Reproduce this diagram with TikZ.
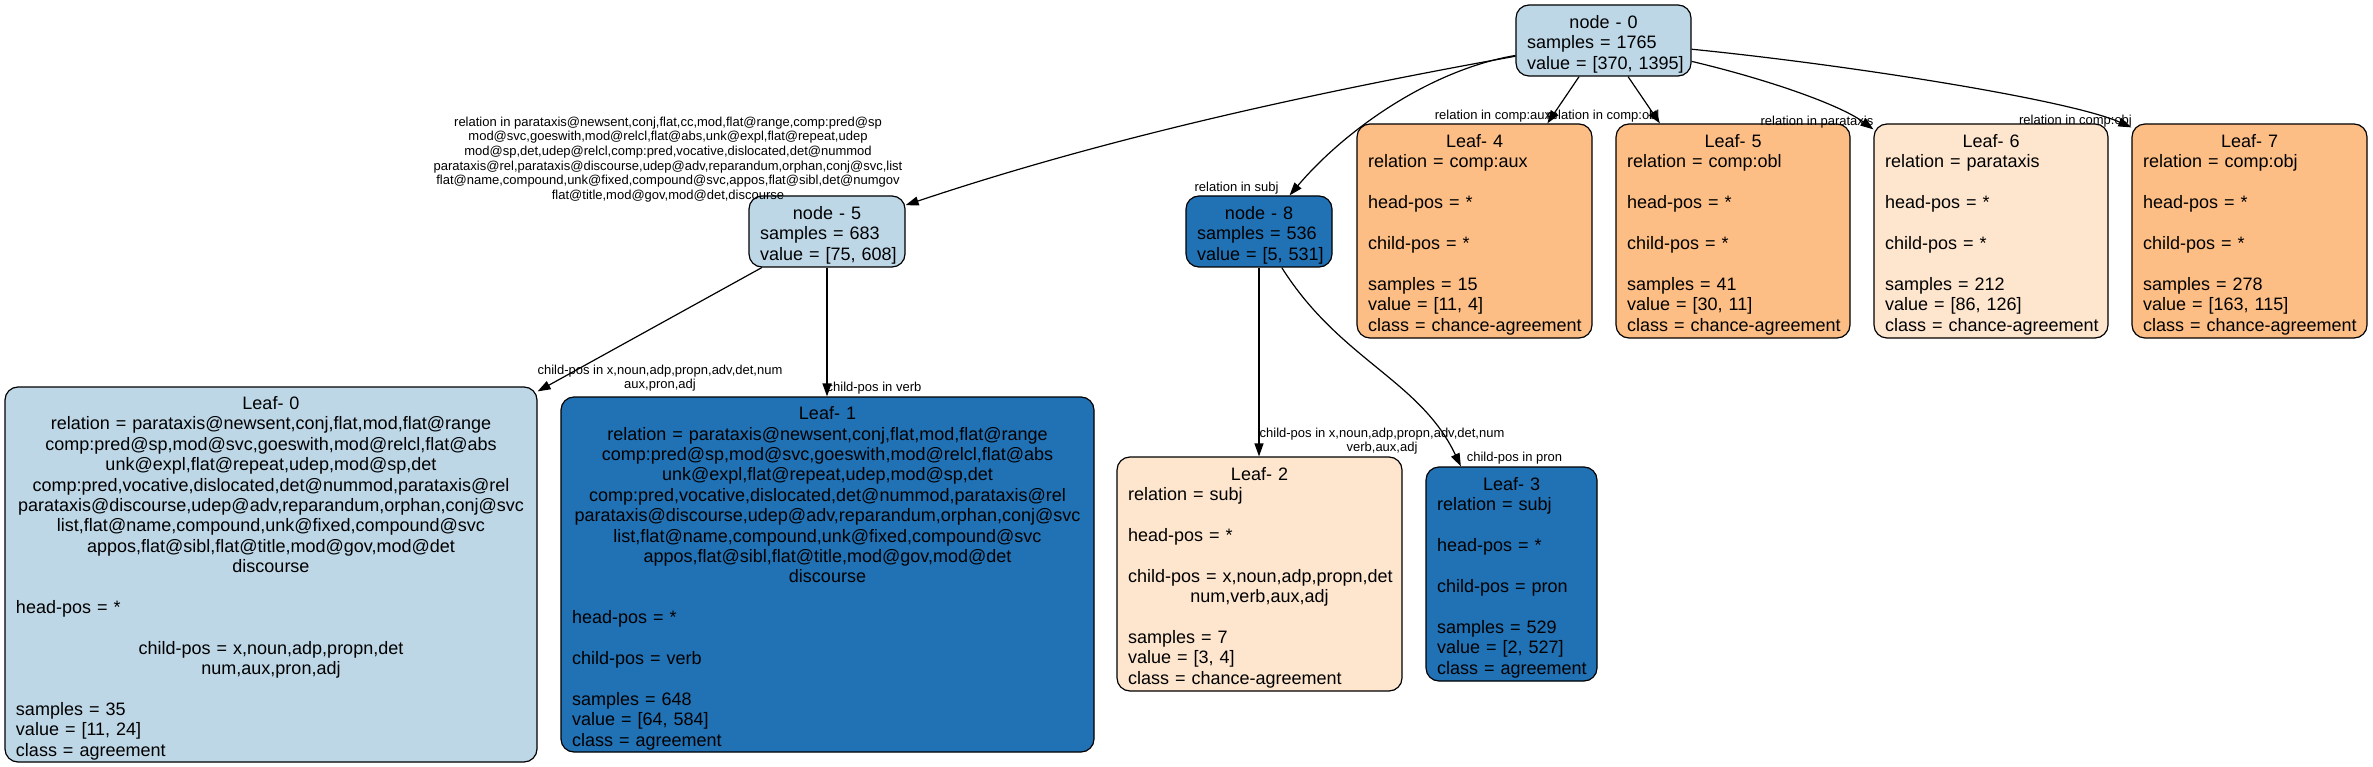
\documentclass[tikz,border=0pt]{standalone}
\usepackage{fontspec}
\setmainfont{Liberation Sans}
\usetikzlibrary{arrows.meta}
\definecolor{lblue}{HTML}{BDD7E7}
\definecolor{dblue}{HTML}{2171B5}
\definecolor{lorange}{HTML}{FDBE85}
\definecolor{cream}{HTML}{FEE6CE}
\newcommand\rowC[1]{\par\hbox to\hsize{\hfil#1\hfil}}
\newcommand\rowL[1]{\par\hbox to\hsize{#1\hfil}}
\newcommand\rowE{\par\hbox to\hsize{\hfil}}
\tikzset{
  box/.style={draw=black, line width=1.2pt, rounded corners=13pt, inner xsep=11pt, inner ysep=0pt, anchor=center, font=\fontsize{18}{20.4}\selectfont},
  elabel/.style={inner sep=0pt, align=center, font=\fontsize{13}{14.6}\selectfont},
  edge/.style={draw=black, line width=1.2pt, -{Triangle[length=13pt,width=9pt]}}
}
\begin{document}
\begin{tikzpicture}[x=1pt,y=-1pt]
\useasboundingbox[fill=white] (0,0) rectangle (2373,767);
% internal nodes
\node[box, fill=lblue, text width=153pt, minimum height=71pt] (N0) at (1603.5,40.5)
 {\rowC{node - 0}\rowL{samples = 1765}\rowL{value = [370, 1395]}};
\node[box, fill=lblue, text width=134pt, minimum height=71pt] (N5) at (827,231.5)
 {\rowC{node - 5}\rowL{samples = 683}\rowL{value = [75, 608]}};
\node[box, fill=dblue, text width=124pt, minimum height=71pt] (N8) at (1259,231.5)
 {\rowC{node - 8}\rowL{samples = 536}\rowL{value = [5, 531]}};
% leaves
\node[box, fill=lblue, text width=510pt, minimum height=375pt] (L0) at (271,574.5)
 {\rowC{Leaf- 0}
  \rowC{relation = parataxis@newsent,conj,flat,mod,flat@range}
  \rowC{comp:pred@sp,mod@svc,goeswith,mod@relcl,flat@abs}
  \rowC{unk@expl,flat@repeat,udep,mod@sp,det}
  \rowC{comp:pred,vocative,dislocated,det@nummod,parataxis@rel}
  \rowC{parataxis@discourse,udep@adv,reparandum,orphan,conj@svc}
  \rowC{list,flat@name,compound,unk@fixed,compound@svc}
  \rowC{appos,flat@sibl,flat@title,mod@gov,mod@det}
  \rowC{discourse}
  \rowE
  \rowL{head-pos = *}
  \rowE
  \rowC{child-pos = x,noun,adp,propn,det}
  \rowC{num,aux,pron,adj}
  \rowE
  \rowL{samples = 35}
  \rowL{value = [11, 24]}
  \rowL{class = agreement}};
\node[box, fill=dblue, text width=511pt, minimum height=355pt] (L1) at (827.5,574.5)
 {\rowC{Leaf- 1}
  \rowC{relation = parataxis@newsent,conj,flat,mod,flat@range}
  \rowC{comp:pred@sp,mod@svc,goeswith,mod@relcl,flat@abs}
  \rowC{unk@expl,flat@repeat,udep,mod@sp,det}
  \rowC{comp:pred,vocative,dislocated,det@nummod,parataxis@rel}
  \rowC{parataxis@discourse,udep@adv,reparandum,orphan,conj@svc}
  \rowC{list,flat@name,compound,unk@fixed,compound@svc}
  \rowC{appos,flat@sibl,flat@title,mod@gov,mod@det}
  \rowC{discourse}
  \rowE
  \rowL{head-pos = *}
  \rowE
  \rowL{child-pos = verb}
  \rowE
  \rowL{samples = 648}
  \rowL{value = [64, 584]}
  \rowL{class = agreement}};
\node[box, fill=cream, text width=263pt, minimum height=234pt] (L2) at (1259.5,574)
 {\rowC{Leaf- 2}
  \rowL{relation = subj}
  \rowE
  \rowL{head-pos = *}
  \rowE
  \rowL{child-pos = x,noun,adp,propn,det}
  \rowC{num,verb,aux,adj}
  \rowE
  \rowL{samples = 7}
  \rowL{value = [3, 4]}
  \rowL{class = chance-agreement}};
\node[box, fill=dblue, text width=149pt, minimum height=214pt] (L3) at (1511.5,574)
 {\rowC{Leaf- 3}
  \rowL{relation = subj}
  \rowE
  \rowL{head-pos = *}
  \rowE
  \rowL{child-pos = pron}
  \rowE
  \rowL{samples = 529}
  \rowL{value = [2, 527]}
  \rowL{class = agreement}};
\node[box, fill=lorange, text width=213pt, minimum height=214pt] (L4) at (1474.5,231)
 {\rowC{Leaf- 4}
  \rowL{relation = comp:aux}
  \rowE
  \rowL{head-pos = *}
  \rowE
  \rowL{child-pos = *}
  \rowE
  \rowL{samples = 15}
  \rowL{value = [11, 4]}
  \rowL{class = chance-agreement}};
\node[box, fill=lorange, text width=212pt, minimum height=214pt] (L5) at (1733,231)
 {\rowC{Leaf- 5}
  \rowL{relation = comp:obl}
  \rowE
  \rowL{head-pos = *}
  \rowE
  \rowL{child-pos = *}
  \rowE
  \rowL{samples = 41}
  \rowL{value = [30, 11]}
  \rowL{class = chance-agreement}};
\node[box, fill=cream, text width=212pt, minimum height=214pt] (L6) at (1991,231)
 {\rowC{Leaf- 6}
  \rowL{relation = parataxis}
  \rowE
  \rowL{head-pos = *}
  \rowE
  \rowL{child-pos = *}
  \rowE
  \rowL{samples = 212}
  \rowL{value = [86, 126]}
  \rowL{class = chance-agreement}};
\node[box, fill=lorange, text width=213pt, minimum height=214pt] (L7) at (2249.5,231)
 {\rowC{Leaf- 7}
  \rowL{relation = comp:obj}
  \rowE
  \rowL{head-pos = *}
  \rowE
  \rowL{child-pos = *}
  \rowE
  \rowL{samples = 278}
  \rowL{value = [163, 115]}
  \rowL{class = chance-agreement}};
% edges
\draw[edge] (N0) .. controls (1300,95) and (1100,140) .. (N5);
\draw[edge] (N0) .. controls (1430,70) and (1345,130) .. (N8);
\draw[edge] (N0) -- (L4);
\draw[edge] (N0) -- (L5);
\draw[edge] (N0) .. controls (1770,80) and (1840,105) .. ([yshift=-6pt]L6.north west);
\draw[edge] (N0) .. controls (1850,65) and (2070,100) .. ([yshift=-4pt]L7.north west);
\draw[edge] (N5) -- ([yshift=-5pt]L0.north east);
\draw[edge] (N5) -- (N5 |- L1.north);
\draw[edge] (N8) -- (N8 |- L2.north);
\draw[edge] (N8) .. controls (1340,360) and (1420,380) .. (L3);
% edge labels
\node[elabel] (EL5) at (668,159.5) {relation in parataxis@newsent,conj,flat,cc,mod,flat@range,comp:pred@sp\\
mod@svc,goeswith,mod@relcl,flat@abs,unk@expl,flat@repeat,udep\\
mod@sp,det,udep@relcl,comp:pred,vocative,dislocated,det@nummod\\
parataxis@rel,parataxis@discourse,udep@adv,reparandum,orphan,conj@svc,list\\
flat@name,compound,unk@fixed,compound@svc,appos,flat@sibl,det@numgov\\
flat@title,mod@gov,mod@det,discourse};
\node[elabel] (EL8) at (1236.5,188) {relation in subj};
\node[elabel] (EL4) at (1493,116) {relation in comp:aux};
\node[elabel] (ELo) at (1603,116) {relation in comp:obl};
\node[elabel] (EL6) at (1817,122) {relation in parataxis};
\node[elabel] (EL7) at (2075.5,121) {relation in comp:obj};
\node[elabel] (EL0) at (660,378) {child-pos in x,noun,adp,propn,adv,det,num\\aux,pron,adj};
\node[elabel] (EL1) at (874,388) {child-pos in verb};
\node[elabel] (EL2) at (1382,441) {child-pos in x,noun,adp,propn,adv,det,num\\verb,aux,adj};
\node[elabel] (EL3) at (1514.5,458) {child-pos in pron};
\end{tikzpicture}
\end{document}
